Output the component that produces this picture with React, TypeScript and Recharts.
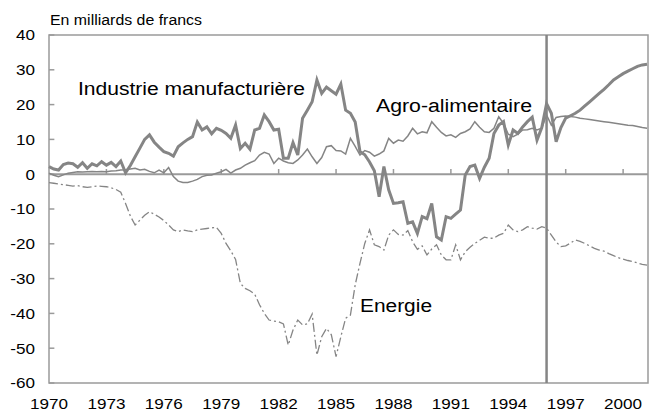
import React from 'react';
import { LineChart, Line, XAxis, YAxis, ReferenceLine, ReferenceArea } from 'recharts';

// quarterly points, 1970Q1 .. 2001Q2
const quarters = Array.from({ length: 126 }, (_, i) => 1970 + i / 4);

const industrie = [
    2.2, 1.5, 1.2, 2.8, 3.2, 3.0, 2.0, 3.3, 1.7, 3.0, 2.4, 3.6, 2.6, 3.4, 2.2, 3.8,
    0.4, 2.5, 5.0, 7.5, 10.0, 11.3, 9.2, 7.8, 6.5, 6.0, 5.2, 7.9, 9.0, 10.0, 10.8, 15.0,
    12.7, 13.6, 11.6, 13.2, 12.6, 11.7, 10.3, 14.1, 7.4, 8.9, 7.2, 12.7, 13.2, 17.0, 15.1, 12.7,
    12.9, 4.6, 4.6, 9.1, 5.5, 16.1, 18.4, 20.8, 27.1, 23.2, 25.0, 24.0, 23.0, 25.9, 18.4, 17.5,
    15.0, 6.5, 5.6, 3.5, 1.0, -6.5, 2.2, -4.5, -8.4, -8.2, -7.9, -14.1, -13.7, -17.0, -12.2, -12.8,
    -8.4, -18.0, -18.9, -12.2, -12.7, -11.5, -10.3, -0.2, 2.2, 2.6, -1.2, 2.0, 4.6, 11.7, 14.1, 15.1,
    8.4, 12.7, 11.7, 13.6, 15.1, 16.4, 9.8, 13.4, 20.3, 17.5, 9.3, 13.4, 16.1, 16.8, 17.5, 18.4,
    19.6, 20.8, 22.0, 23.2, 24.4, 25.7, 27.1, 28.0, 28.9, 29.6, 30.3, 31.0, 31.4, 31.6,
];

const agro = [
    0.3, -0.3, -0.7, -0.2, 0.3, 0.5, 0.7, 0.6, 0.7, 0.8, 0.7, 0.8, 0.7, 0.9, 1.0, 1.2,
    1.3, 1.5, 1.7, 1.2, 1.4, 0.8, 0.4, 1.2, 0.4, 1.9, -0.7, -2.0, -2.4, -2.4, -2.0, -1.5,
    -0.7, -0.3, -0.2, 0.3, 0.7, 1.4, 0.3, 1.2, 1.7, 2.6, 3.3, 3.9, 5.5, 6.3, 5.8, 3.1,
    4.6, 3.8, 3.3, 3.1, 4.1, 5.5, 7.2, 5.0, 3.1, 4.8, 7.9, 8.2, 6.8, 6.7, 5.8, 10.3,
    8.0, 5.5, 6.8, 6.3, 5.2, 5.8, 6.7, 10.3, 8.9, 9.8, 9.5, 11.0, 13.2, 11.6, 12.2, 11.9,
    15.1, 13.5, 12.0, 11.0, 11.3, 10.6, 11.7, 12.2, 13.0, 15.1, 13.5, 12.2, 12.0, 13.2, 16.5, 14.6,
    11.5, 10.8, 11.5, 12.7, 12.8, 13.2, 12.7, 13.2, 17.0, 14.1, 16.3, 16.6, 16.7, 16.6, 16.4, 16.1,
    15.9, 15.7, 15.5, 15.3, 15.1, 14.9, 14.7, 14.5, 14.3, 14.1, 14.0, 13.7, 13.4, 13.2,
];

const energie = [
    -2.4, -2.6, -2.8, -3.0, -3.2, -3.4, -3.3, -3.6, -3.8, -3.6, -3.4, -3.5, -3.6, -3.9, -4.4, -5.2,
    -8.4, -12.0, -14.6, -13.2, -11.8, -10.8, -11.5, -12.3, -13.3, -14.6, -16.0, -16.5, -16.0, -16.3, -16.5, -16.0,
    -15.8, -15.6, -15.4, -15.3, -17.0, -19.9, -22.0, -24.5, -31.4, -32.8, -33.5, -34.5, -37.5, -40.0, -41.9, -42.2,
    -42.4, -43.0, -49.1, -44.8, -41.9, -43.3, -43.0, -40.2, -52.0, -46.7, -44.3, -46.1, -52.4, -46.7, -41.4, -40.5,
    -31.8, -25.6, -19.9, -16.0, -20.3, -20.8, -21.8, -17.5, -16.0, -17.3, -17.5, -16.2, -19.4, -21.6, -20.6, -23.2,
    -21.5, -20.3, -23.2, -24.6, -24.6, -20.3, -24.6, -22.3, -21.0, -19.9, -19.0, -18.1, -18.4, -18.4, -17.5, -17.0,
    -14.6, -16.0, -16.5, -16.0, -15.1, -15.5, -15.8, -15.1, -15.5, -17.5, -19.5, -20.8, -20.6, -19.8, -18.9, -19.3,
    -19.9, -20.6, -21.3, -21.8, -22.1, -22.8, -23.4, -24.0, -24.4, -24.8, -25.1, -25.5, -25.9, -26.1,
];

const xTicks = [1970, 1973, 1976, 1979, 1982, 1985, 1988, 1991, 1994, 1997, 2000];
const yTicks = [-60, -50, -40, -30, -20, -10, 0, 10, 20, 30, 40];
const forecastStart = 1996;

const data = quarters.map((year, i) => ({
    year,
    industrie: industrie[i],
    agro: agro[i],
    energie: energie[i],
}));

const FONT = '"Liberation Sans", Arial, sans-serif';
const GRAY = '#858585';
const AXIS = '#9a9a9a';

// the source picture is slightly stretched horizontally, so widen glyphs a bit
const digitsWidth = (s: string, size: number) => {
    let w = 0;
    for (const c of s) w += c === '-' ? 0.333 : 0.556;
    return w * size * 1.14;
};

const XTick = (props: any) => {
    const { x, y, payload } = props;
    const s = String(payload.value);
    return (
        <text x={x} y={y} dy="0.71em" textAnchor="middle" fontSize={15} fontFamily={FONT} fill="#000"
            textLength={digitsWidth(s, 15)} lengthAdjust="spacingAndGlyphs">{s}</text>
    );
};

const YTick = (props: any) => {
    const { x, y, payload } = props;
    const s = String(payload.value);
    return (
        <text x={x} y={y} dy="0.355em" textAnchor="end" fontSize={15} fontFamily={FONT} fill="#000"
            textLength={digitsWidth(s, 15)} lengthAdjust="spacingAndGlyphs">{s}</text>
    );
};

export default function App() {
    return (
        <div style={{ position: 'relative', width: 649, height: 413, background: '#fff' }}>
            <style>{`body { margin: 0; }`}</style>
            <LineChart width={649} height={413} data={data} margin={{ top: 35, right: 1, bottom: 0, left: 0 }}>
                <XAxis
                    type="number"
                    dataKey="year"
                    domain={[1970, 2001.3]}
                    ticks={xTicks}
                    height={30}
                    axisLine={false}
                    tickLine={false}
                    tickMargin={9}
                    tick={<XTick />}
                    interval={0}
                />
                <YAxis
                    domain={[-60, 40]}
                    ticks={yTicks}
                    width={49}
                    axisLine={false}
                    tickLine={false}
                    tickMargin={8}
                    tick={<YTick />}
                    interval={0}
                />

                {/* plot frame */}
                <ReferenceArea x1={1970} x2={2001.3} y1={-60} y2={40} fill="none" fillOpacity={0} stroke={AXIS} strokeWidth={1.5} />

                {/* zero line with small inside ticks */}
                <ReferenceLine y={0} stroke={AXIS} strokeWidth={2} />
                {xTicks.slice(1).map((t) => (
                    <ReferenceLine key={t} segment={[{ x: t, y: 0 }, { x: t, y: 1.5 }]} stroke={AXIS} strokeWidth={1.5} />
                ))}
                {yTicks.map((t) => (
                    <ReferenceLine key={'y' + t} segment={[{ x: 1970, y: t }, { x: 1970.28, y: t }]} stroke={AXIS} strokeWidth={1.5} />
                ))}

                <Line type="linear" dataKey="energie" stroke={GRAY} strokeWidth={1.3} strokeDasharray="9 3 2 3" dot={false} isAnimationActive={false} />
                <Line type="linear" dataKey="agro" stroke={GRAY} strokeWidth={1.5} dot={false} isAnimationActive={false} />
                <Line type="linear" dataKey="industrie" stroke={GRAY} strokeWidth={3} dot={false} isAnimationActive={false} />

                <ReferenceLine x={forecastStart} stroke={GRAY} strokeWidth={2.5} />
            </LineChart>

            <svg width={649} height={413} style={{ position: 'absolute', left: 0, top: 0, pointerEvents: 'none' }}>
                <g fontFamily={FONT} fill="#000">
                    <text x={50} y={25} fontSize={14} textLength={152} lengthAdjust="spacingAndGlyphs">En milliards de francs</text>
                    <text x={78} y={95} fontSize={18} textLength={227} lengthAdjust="spacingAndGlyphs">Industrie manufacturière</text>
                    <text x={376} y={112} fontSize={18} textLength={156} lengthAdjust="spacingAndGlyphs">Agro-alimentaire</text>
                    <text x={360} y={312} fontSize={18} textLength={72} lengthAdjust="spacingAndGlyphs">Energie</text>
                </g>
            </svg>
        </div>
    );
}
